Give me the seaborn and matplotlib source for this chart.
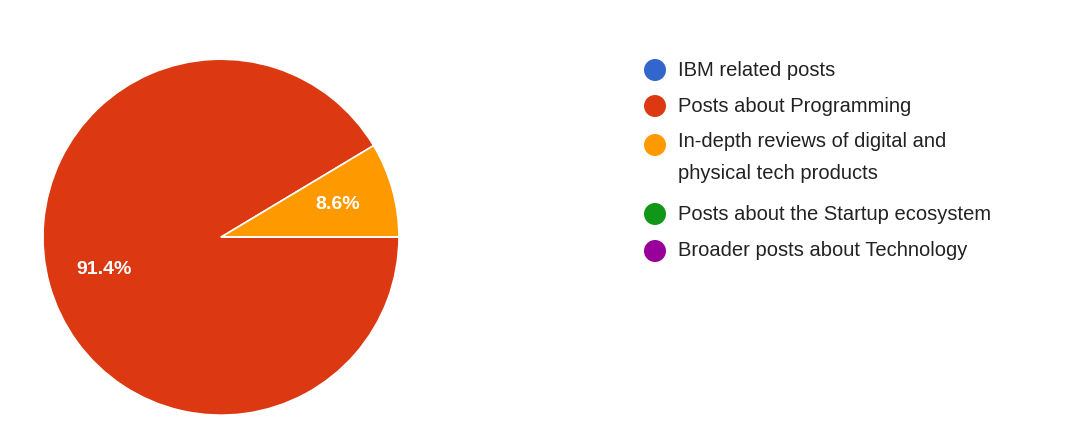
import matplotlib
matplotlib.use("Agg")
import matplotlib.pyplot as plt
import seaborn as sns
from matplotlib.patches import Ellipse

sns.set_theme(style="white")
plt.rcParams['font.family'] = ['Liberation Sans', 'DejaVu Sans']

categories = ["IBM related posts", "Posts about Programming",
              "In-depth reviews of digital and\nphysical tech products",
              "Posts about the Startup ecosystem", "Broader posts about Technology"]
values = [0.0, 91.4, 8.6, 0.0, 0.0]
colors = ["#3366cc", "#dc3912", "#ff9900", "#109618", "#990099"]

fig = plt.figure(figsize=(10.8, 4.32), dpi=100)
ax = fig.add_axes([0.0398, 0.039, 0.3296, 0.824])
ax.pie(values, colors=colors, startangle=0, counterclock=False,
       autopct=lambda p: f"{p:.1f}%" if p > 0 else "", pctdistance=0.68,
       wedgeprops=dict(edgecolor="white", linewidth=1.2),
       textprops=dict(color="white", fontsize=14, fontweight="bold"))
ax.set_xlim(-1.0, 1.0)
ax.set_ylim(-1.0, 1.0)
ax.set_aspect("equal")
ax.axis("off")

# legend
ys = [70, 106, 145, 214, 251]
for lab, c, y in zip(categories, colors, ys):
    fig.patches.append(Ellipse((655 / 1080, 1 - y / 432), 22 / 1080, 22 / 432,
                               transform=fig.transFigure, facecolor=c, edgecolor="none"))
    if "\n" in lab:
        fig.text(678 / 1080, 1 - (145 - 13) / 432, lab, fontsize=14.5, color="#222222",
                 va="top", linespacing=1.85)
    else:
        fig.text(678 / 1080, 1 - y / 432, lab, fontsize=14.5, color="#222222", va="center")

fig.savefig("out.png", dpi=100)
